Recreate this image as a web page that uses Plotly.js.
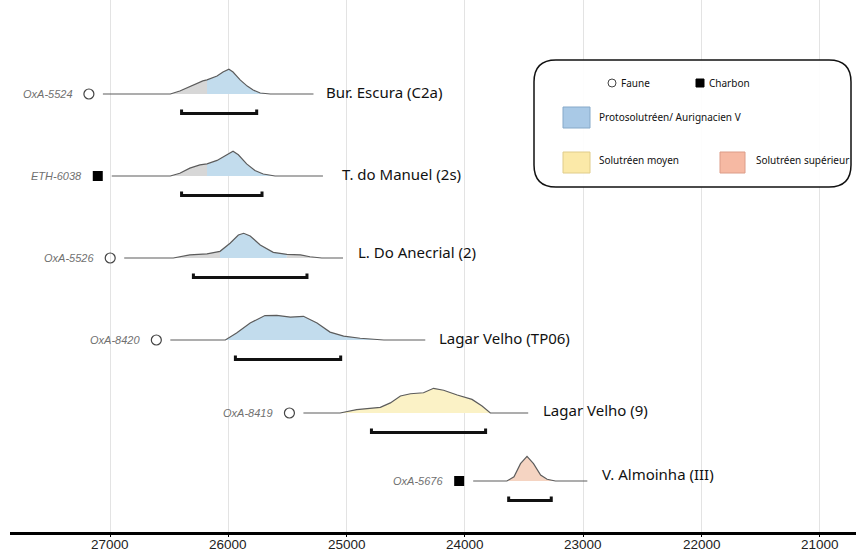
<!DOCTYPE html>
<html>
<head>
<meta charset="utf-8">
<script src="https://cdn.plot.ly/plotly-3.0.1.min.js"></script>
<style>html,body{margin:0;padding:0;background:#fff;}#chart{width:856px;height:553px;}</style>
</head>
<body>
<div id="chart"></div>
<script>
// ---------------- DATA ----------------
const samples  = ['OxA-5524', 'ETH-6038', 'OxA-5526', 'OxA-8420', 'OxA-8419', 'OxA-5676'];
const sites    = ['Bur. Escura (C2a)', 'T. do Manuel (2s)', 'L. Do Anecrial (2)', 'Lagar Velho (TP06)', 'Lagar Velho (9)', 'V. Almoinha (III)'];
const material = ['Faune', 'Charbon', 'Faune', 'Faune', 'Faune', 'Charbon'];
const culture  = ['proto', 'proto', 'proto', 'proto', 'moyen', 'sup'];

// extent of each distribution's baseline (cal BP)
const tailOld   = [27060, 26985, 26880, 26490, 25365, 23930];
const tailYoung = [25280, 25200, 25030, 24335, 23465, 22965];

// 95% ranges (brackets)
const rangeOld   = [26395, 26395, 26295, 25940, 24790, 23630];
const rangeYoung = [25760, 25715, 25335, 25050, 23825, 23270];

// grey parts of the distributions
const greyOlderThan   = [26180, 26180, 26070, null, null, null];
const greyYoungerThan = [null, null, 25620, null, null, null];

// probability distributions (relative to peak)
const years1 = [26490, 26410, 26300, 26215, 26180, 26095, 26045, 25995, 25960, 25900, 25840, 25790, 25730, 25645];
const prob1  = [0, 0.12, 0.36, 0.53, 0.57, 0.73, 0.89, 1.0, 0.89, 0.57, 0.32, 0.16, 0.04, 0];
const years2 = [26490, 26410, 26325, 26240, 26180, 26095, 26010, 25960, 25915, 25845, 25775, 25705, 25605];
const prob2  = [0, 0.11, 0.32, 0.45, 0.49, 0.63, 0.86, 1.0, 0.86, 0.49, 0.22, 0.08, 0];
const years3 = [26465, 26325, 26180, 26070, 25985, 25915, 25870, 25815, 25730, 25620, 25505, 25390, 25310, 25210];
const prob3  = [0, 0.13, 0.17, 0.27, 0.6, 0.93, 1.0, 0.89, 0.53, 0.23, 0.15, 0.13, 0.05, 0];
const years4 = [26025, 25930, 25815, 25690, 25590, 25475, 25365, 25250, 25140, 25025, 24885, 24685];
const prob4  = [0, 0.28, 0.69, 0.99, 1.0, 0.93, 0.96, 0.69, 0.32, 0.16, 0.07, 0];
const years5 = [25055, 24915, 24715, 24630, 24545, 24460, 24350, 24265, 24180, 24065, 23940, 23855, 23785];
const prob5  = [0, 0.14, 0.23, 0.41, 0.69, 0.78, 0.82, 1.0, 0.92, 0.73, 0.55, 0.28, 0];
const years6 = [23645, 23585, 23530, 23475, 23420, 23360, 23305, 23235];
const prob6  = [0, 0.17, 0.70, 1.0, 0.70, 0.24, 0.07, 0];

const tickValues = [27000, 26000, 25000, 24000, 23000, 22000, 21000];
const tickLabels = ['27000', '26000', '25000', '24000', '23000', '22000', '21000'];

const legendCultures = ['Protosolutréen/ Aurignacien V', 'Solutréen moyen', 'Solutréen supérieur'];

// ---------------- LAYOUT CONSTANTS ----------------
const W = 856, H = 553, ML = 10, MB = 21;
const PH = H - MB;                       // plot height in px
const ROW_Y = [94, 176, 258, 340, 413, 481];   // baseline of each row (px from top)
const LABEL_DX = [11, 17, 13, 12, 13, 13];
const LABEL_DY = [-2, -2, -6, -2, -3, -7];
const PEAK = 24.7;                       // px height of a peak
const BRACKET_DY = 19.5, BRACKET_TICK = 4;
const YR_PER_PX = 8.453;
const fillColor = {proto: '#c2dced', moyen: '#fbf2c6', sup: '#f5d4c2'};
const greyFill = '#d7d7d7';
const outline = '#5c5c5c';

const allYears = [years1, years2, years3, years4, years5, years6];
const allProb  = [prob1, prob2, prob3, prob4, prob5, prob6];

const traces = [];
function poly(xs, ps, base, color) {
  const x = xs.slice(), y = ps.map(p => base - p * PEAK);
  x.push(xs[xs.length - 1], xs[0]);
  y.push(base, base);
  traces.push({x, y, mode: 'lines', fill: 'toself', fillcolor: color,
    line: {width: 0, color: color}, hoverinfo: 'skip', showlegend: false});
}

for (let i = 0; i < samples.length; i++) {
  const ys = allYears[i], ps = allProb[i], base = ROW_Y[i];
  // split into grey / coloured pieces
  const segs = [];
  let cur = null;
  for (let k = 0; k < ys.length; k++) {
    const grey = (greyOlderThan[i] !== null && ys[k] > greyOlderThan[i]) ||
                 (greyYoungerThan[i] !== null && ys[k] < greyYoungerThan[i]);
    const col = grey ? greyFill : fillColor[culture[i]];
    if (!cur || cur.col !== col) {
      if (cur) { cur.x.push(ys[k]); cur.p.push(ps[k]); }
      cur = {col, x: [ys[k]], p: [ps[k]]};
      segs.push(cur);
    } else { cur.x.push(ys[k]); cur.p.push(ps[k]); }
  }
  segs.forEach(s => poly(s.x, s.p, base, s.col));
  // outline incl. flat tails
  traces.push({x: [tailOld[i]].concat(ys, [tailYoung[i]]),
    y: [base].concat(ps.map(p => base - p * PEAK), [base]),
    mode: 'lines', line: {color: outline, width: 1.2}, hoverinfo: 'skip', showlegend: false});
  // bracket
  const by = base + BRACKET_DY;
  traces.push({x: [rangeOld[i], rangeOld[i], rangeYoung[i], rangeYoung[i]],
    y: [by - BRACKET_TICK, by, by, by - BRACKET_TICK],
    mode: 'lines', line: {color: '#111', width: 3}, hoverinfo: 'skip', showlegend: false});
  // material marker
  const mx = tailOld[i] + 14 * YR_PER_PX;
  traces.push({x: [mx], y: [base], mode: 'markers', hoverinfo: 'skip', showlegend: false,
    marker: material[i] === 'Faune'
      ? {symbol: 'circle-open', size: 10, color: '#444', line: {width: 1.2, color: '#444'}}
      : {symbol: 'square', size: 10, color: '#000'}});
}

const annotations = [];
for (let i = 0; i < samples.length; i++) {
  annotations.push({x: tailYoung[i], y: ROW_Y[i], xref: 'x', yref: 'y', xanchor: 'left', yanchor: 'middle',
    xshift: LABEL_DX[i], yshift: -LABEL_DY[i], text: sites[i], showarrow: false,
    font: {family: 'Noto Sans', size: 15, color: '#111'}});
  annotations.push({x: tailOld[i] + 14 * YR_PER_PX, y: ROW_Y[i], xref: 'x', yref: 'y', xanchor: 'right', yanchor: 'middle',
    xshift: -14, text: '<i>' + samples[i] + '</i>', showarrow: false,
    font: {family: 'Liberation Sans', size: 11, color: '#707070'}});
}
// x tick labels as annotations just under the axis line
for (let k = 0; k < tickValues.length; k++) {
  annotations.push({x: tickValues[k], y: 0, xref: 'x', yref: 'paper', xanchor: 'center', yanchor: 'top',
    yshift: -4, borderpad: 0, text: tickLabels[k], showarrow: false,
    font: {family: 'Liberation Sans', size: 13.5, color: '#222'}});
}

// legend box (pixel helpers)
const px = x => (x - ML) / (W - ML);
const py = y => 1 - y / PH;
const shapes = [];
(function () {
  const x0 = 534, x1 = 851, y0 = 60, y1 = 187, r = 22;
  const P = (x, y) => px(x) + ',' + py(y);
  const path = 'M ' + P(x0 + r, y0) + ' L ' + P(x1 - r, y0) + ' Q ' + P(x1, y0) + ' ' + P(x1, y0 + r) +
    ' L ' + P(x1, y1 - r) + ' Q ' + P(x1, y1) + ' ' + P(x1 - r, y1) +
    ' L ' + P(x0 + r, y1) + ' Q ' + P(x0, y1) + ' ' + P(x0, y1 - r) +
    ' L ' + P(x0, y0 + r) + ' Q ' + P(x0, y0) + ' ' + P(x0 + r, y0) + ' Z';
  shapes.push({type: 'path', xref: 'paper', yref: 'paper', path, line: {color: '#111', width: 1.5}, fillcolor: 'rgba(255,255,255,0.9)'});
})();
function rectPx(x0, y0, x1, y1, fill, line, type) {
  shapes.push({type: type || 'rect', xref: 'paper', yref: 'paper', x0: px(x0), x1: px(x1), y0: py(y1), y1: py(y0),
    fillcolor: fill, line: {color: line, width: 1}});
}
rectPx(608, 79, 616, 87, '#fff', '#444', 'circle');
rectPx(696, 79, 704, 87, '#000', '#000');
rectPx(563, 107, 590, 128, '#a9c9e6', '#86a9c9');
rectPx(563, 152, 590, 173, '#fbe9a8', '#e0cc8a');
rectPx(720, 152, 745, 173, '#f6b9a3', '#dc9c88');

function legText(x, y, t) {
  annotations.push({x: px(x), y: py(y), xref: 'paper', yref: 'paper', xanchor: 'left', yanchor: 'middle',
    text: t, showarrow: false, font: {family: 'Noto Sans', size: 10, color: '#111'}});
}
legText(619, 83, 'Faune');
legText(707, 83, 'Charbon');
legText(597, 117, legendCultures[0]);
legText(597, 160, legendCultures[1]);
legText(754, 160, legendCultures[2]);

const layout = {
  width: W, height: H,
  margin: {l: ML, r: 0, t: 0, b: MB, pad: 0},
  paper_bgcolor: '#fff', plot_bgcolor: '#fff',
  showlegend: false,
  xaxis: {
    range: [27000 + (110 - ML) * YR_PER_PX, 21000 - (W - 819.8) * YR_PER_PX],
    tickvals: tickValues, ticktext: tickLabels, showticklabels: false,
    showgrid: true, gridcolor: '#e3e3e3', gridwidth: 1,
    showline: true, linecolor: '#000', linewidth: 3,
    ticks: 'outside', ticklen: 2, tickcolor: '#000', tickwidth: 1,
    zeroline: false, fixedrange: true
  },
  yaxis: {range: [PH, 0], visible: false, showgrid: false, zeroline: false, fixedrange: true},
  shapes, annotations
};

Plotly.newPlot('chart', traces, layout, {staticPlot: true, displayModeBar: false});
</script>
</body>
</html>
